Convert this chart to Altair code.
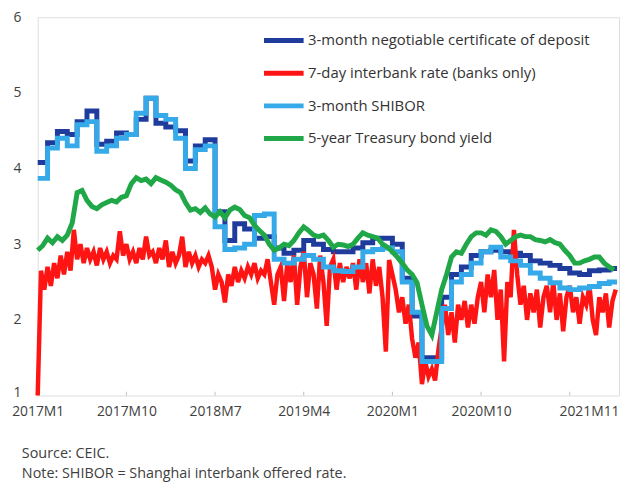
import altair as alt
import pandas as pd

# ---------------- data ----------------
series_names = [
    "3-month negotiable certificate of deposit",
    "7-day interbank rate (banks only)",
    "3-month SHIBOR",
    "5-year Treasury bond yield",
]
series_colors = ["#1f3c9c", "#ff1414", "#36aae9", "#20a848"]

# monthly index 0 = 2017M1
tick_months = [0, 9, 18, 27, 36, 45, 54]
tick_labels = ["2017M1", "2017M10", "2018M7", "2019M4", "2020M1", "2020M10"]
end_month = 59
end_label = "2021M11"
y_ticks = [1, 2, 3, 4, 5, 6]

# 3-month NCD, monthly (step)
ncd = [4.08, 4.34, 4.49, 4.45, 4.62, 4.76, 4.32, 4.36, 4.47, 4.45,
       4.65, 4.93, 4.60, 4.55, 4.50, 4.10, 4.30, 4.38, 3.43, 3.05,
       3.27, 3.20, 3.08, 3.10, 2.95, 2.88, 2.92, 3.05, 3.00, 2.93,
       2.90, 2.90, 2.95, 3.02, 3.08, 3.08, 3.00, 2.55, 2.05, 1.50,
       1.50, 2.30, 2.60, 2.70, 2.85, 2.90, 2.92, 2.90, 2.88, 2.85,
       2.78, 2.75, 2.72, 2.68, 2.62, 2.60, 2.65, 2.66, 2.68]

# 3-month SHIBOR, monthly (step)
shibor = [3.87, 4.27, 4.40, 4.30, 4.58, 4.62, 4.23, 4.30, 4.40, 4.45,
          4.73, 4.93, 4.70, 4.65, 4.40, 4.00, 4.25, 4.30, 3.23, 2.93,
          2.95, 3.00, 3.38, 3.40, 2.80, 2.75, 2.80, 2.85, 2.80, 2.70,
          2.65, 2.64, 2.70, 2.90, 2.93, 2.95, 2.90, 2.50, 2.10, 1.45,
          1.45, 2.15, 2.50, 2.60, 2.75, 2.90, 2.96, 2.83, 2.78, 2.72,
          2.62, 2.55, 2.49, 2.42, 2.40, 2.42, 2.44, 2.48, 2.50]

# 5-year treasury yield, two readings per month
bond5y = [2.92, 2.98, 3.08, 3.02, 3.10, 3.05, 3.12, 3.28, 3.68, 3.71,
          3.58, 3.50, 3.47, 3.52, 3.55, 3.58, 3.56, 3.62, 3.64, 3.80,
          3.88, 3.84, 3.86, 3.80, 3.88, 3.85, 3.82, 3.78, 3.72, 3.68,
          3.55, 3.45, 3.47, 3.42, 3.48, 3.40, 3.36, 3.43, 3.35, 3.45,
          3.49, 3.46, 3.38, 3.35, 3.25, 3.18, 3.12, 3.00, 2.92, 2.95,
          3.00, 2.98, 3.05, 3.15, 3.23, 3.18, 3.12, 3.10, 3.12, 3.05,
          2.96, 3.00, 2.99, 2.97, 3.00, 3.08, 3.15, 3.12, 3.10, 3.08,
          3.00, 2.96, 2.90, 2.83, 2.75, 2.66, 2.60, 2.49, 2.20, 1.92,
          1.80, 2.10, 2.40, 2.60, 2.83, 2.90, 2.88, 3.00, 3.10, 3.15,
          3.15, 3.12, 3.19, 3.17, 3.10, 3.00, 3.05, 3.10, 3.12, 3.10,
          3.10, 3.06, 3.05, 3.03, 3.06, 3.02, 3.00, 2.92, 2.85, 2.75,
          2.75, 2.78, 2.80, 2.83, 2.83, 2.75, 2.70, 2.66]

# 7-day interbank rate, three readings per month
interbank = [1.00, 2.65, 2.40, 2.70, 2.45, 2.75, 2.55, 2.85, 2.60, 2.90,
             2.65, 3.19, 2.80, 3.00, 2.75, 2.95, 2.80, 2.90, 2.72, 2.95,
             2.80, 2.90, 2.75, 2.85, 2.80, 3.17, 2.85, 3.00, 2.80, 2.90,
             2.75, 2.95, 2.80, 3.10, 2.85, 2.90, 2.75, 2.95, 2.80, 3.05,
             2.70, 2.90, 2.75, 2.85, 3.10, 2.70, 2.90, 2.75, 2.85, 2.70,
             2.80, 2.75, 2.85, 2.70, 2.40, 2.60, 2.50, 2.23, 2.60, 2.45,
             2.70, 2.50, 2.65, 2.55, 2.70, 2.60, 2.75, 2.55, 2.65, 2.60,
             2.80, 2.50, 2.20, 2.60, 2.70, 2.25, 2.75, 2.50, 2.85, 2.20,
             2.70, 2.90, 2.30, 2.75, 2.60, 2.15, 2.85, 2.50, 1.92, 2.70,
             2.80, 2.40, 2.75, 2.50, 2.70, 2.55, 2.75, 2.40, 2.80, 2.50,
             2.75, 2.35, 2.80, 2.45, 2.70, 2.30, 1.58, 2.79, 2.60, 2.40,
             2.10, 2.30, 1.95, 2.20, 1.75, 1.50, 1.70, 1.15, 1.45, 1.25,
             1.35, 1.20, 1.60, 1.90, 2.20, 1.80, 2.10, 1.70, 2.20, 2.00,
             2.25, 1.90, 2.20, 1.95, 2.30, 2.50, 2.10, 2.60, 2.30, 2.66,
             2.00, 2.40, 1.45, 2.50, 2.30, 3.19, 2.60, 2.20, 2.45, 2.00,
             2.35, 2.10, 2.40, 1.90, 2.30, 2.45, 2.10, 2.50, 2.00, 2.35,
             1.85, 2.30, 2.45, 2.10, 2.30, 1.95, 2.30, 2.20, 2.45, 2.00,
             1.80, 2.30, 2.10, 2.35, 1.90, 2.25, 2.40]

source_lines = ["Source: CEIC.", "Note: SHIBOR = Shanghai interbank offered rate."]

# ---------------- tables ----------------
def step_table(vals, name):
    xs = list(range(len(vals))) + [len(vals) - 0.2]
    ys = list(vals) + [vals[-1]]
    return pd.DataFrame({"m": xs, "v": ys, "series": name})

df_ncd = step_table(ncd, series_names[0])
df_shibor = step_table(shibor, series_names[2])
df_bond = pd.DataFrame({"m": [i / 2 for i in range(len(bond5y))], "v": bond5y,
                        "series": series_names[3]})
df_ib = pd.DataFrame({"m": [i / 3 for i in range(len(interbank))], "v": interbank,
                      "series": series_names[1]})
df_ticks = pd.DataFrame({"m": tick_months})

FONT = "Open Sans"
TXT = "#404040"

axis_values = tick_months[:-1] + [end_month]
all_labels = tick_labels + [end_label]
expr = "''"
for v, lab in zip(reversed(axis_values), reversed(all_labels)):
    expr = f"datum.value == {v} ? '{lab}' : ({expr})"

x_scale = alt.Scale(domain=[0, end_month], nice=False, zero=False)
y_scale = alt.Scale(domain=[1, 6], nice=False, zero=False)

x_enc = alt.X("m:Q", scale=x_scale, title=None,
              axis=alt.Axis(values=axis_values, labelExpr=expr, ticks=False, domain=False,
                            grid=False, labelFlush=False, labelPadding=9,
                            labelAlign={"condition": {"test": f"datum.value >= {end_month}", "value": "right"},
                                        "value": "center"},
                            labelFontSize=14, labelFont=FONT, labelColor=TXT))
y_enc = alt.Y("v:Q", scale=y_scale, title=None,
              axis=alt.Axis(values=y_ticks, format="d", ticks=False, domain=False, grid=False,
                            labelPadding=17,
                            labelOffset={"condition": {"test": "datum.value <= 1", "value": -3},
                                         "value": 0},
                            labelFontSize=14, labelFont=FONT, labelColor=TXT))
color_enc = alt.Color("series:N",
                      scale=alt.Scale(domain=series_names, range=series_colors),
                      legend=alt.Legend(orient="none", legendX=226, legendY=1, title=None,
                                        symbolType="stroke", symbolSize=1600,
                                        symbolStrokeWidth=5, labelFontSize=15,
                                        labelFont=FONT, labelColor="#333333", labelOffset=2,
                                        rowPadding=-2.5, labelLimit=400))

def line(df, interp, width=5):
    return alt.Chart(df).mark_line(interpolate=interp, strokeWidth=width).encode(
        x=x_enc, y=y_enc, color=color_enc)

ticks = alt.Chart(df_ticks).mark_rule(color="#c0c0c0", strokeWidth=1).encode(
    x=alt.X("m:Q", scale=x_scale), y=alt.datum(1), y2=alt.datum(1.05))

chart = alt.layer(
    ticks,
    line(df_ncd, "step-after"),
    line(df_ib, "linear", 4.5),
    line(df_shibor, "step-after"),
    line(df_bond, "linear"),
).properties(
    width=587, height=382,
    autosize=alt.AutoSizeParams(type="none"),
    padding={"left": 30, "top": 7, "right": 2, "bottom": 86},
    title=alt.TitleParams(text=source_lines, orient="bottom", anchor="start", frame="group",
                          dx=-16, offset=29, fontSize=14.5, fontWeight="normal",
                          lineHeight=20, color=TXT, font=FONT),
).configure_view(stroke="#cccccc", strokeWidth=1.5).configure(background="white")

chart.save("out.html", embed_options={"renderer": "svg", "actions": False})
